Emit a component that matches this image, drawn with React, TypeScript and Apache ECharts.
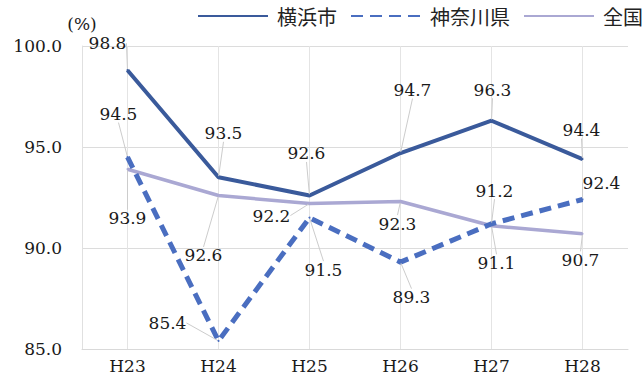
import React, { useEffect, useRef } from "react";
import * as echarts from "echarts";

const categories = ["H23", "H24", "H25", "H26", "H27", "H28"];
const yokohama = [98.8, 93.5, 92.6, 94.7, 96.3, 94.4];
const kanagawa = [94.5, 85.4, 91.5, 89.3, 91.2, 92.4];
const national = [93.9, 92.6, 92.2, 92.3, 91.1, 90.7];
const seriesNames = ["横浜市", "神奈川県", "全国"];
const yTicks = { min: 85, max: 100, interval: 5 };

// label offsets (style only): [dx, dy] relative to the point
const offYokohama = [[-20, -27], [5, -44], [-3, -42], [12, -63], [1, -31], [-1, -29]];
const offKanagawa = [[-9, -43], [-51, -18], [14, 52], [11, 35], [3, -33], [19, -17]];
const offNational = [[0, 49], [-15, 60], [-38, 12], [-3, 22], [5, 37], [-2, 26]];

const labelFont = "DejaVu Serif";
const labelSize = 17;

export default function App() {
  const ref = useRef<HTMLDivElement>(null);
  useEffect(() => {
    const chart = echarts.init(ref.current!, undefined, { renderer: "svg" });
    const offs = [offYokohama, offKanagawa, offNational];
    const mk = (name: string, data: number[], color: string, width: number, type: any, idx: number) => ({
      name,
      type: "line",
      data,
      symbol: "circle",
      symbolSize: 2,
      showSymbol: true,
      itemStyle: { color },
      lineStyle: { color, width, type, cap: "butt" },
      z: 3 - idx,
      label: {
        show: true,
        position: "inside",
        color: "#1a1a1a",
        fontFamily: labelFont,
        fontSize: labelSize,
        formatter: (p: any) => Number(p.value).toFixed(1),
      },
      labelLine: { show: true, lineStyle: { color: "#cccccc", width: 1 } },
      labelLayout: (p: any) => {
        const o = offs[idx][p.dataIndex];
        return { dx: o[0], dy: o[1], hideOverlap: false };
      },
      emphasis: { disabled: true },
    });
    const s0: any = mk(seriesNames[0], yokohama, "#3a5a9b", 4, "solid", 0);
    const s1: any = mk(seriesNames[1], kanagawa, "#4a6ec0", 5, [12, 7], 1);
    const s2: any = mk(seriesNames[2], national, "#aaa8d3", 3.5, "solid", 2);
    s2.markLine = {
      silent: true,
      symbol: "none",
      label: { show: false },
      lineStyle: { color: "#e4e4e4", width: 1, type: "solid" },
      data: categories.map((c) => ({ xAxis: c })),
      z: 0,
    };
    chart.setOption({
      animation: false,
      backgroundColor: "#fff",
      grid: { left: 82, right: 15, top: 46, bottom: 36 },
      legend: {
        top: 6,
        left: 197,
        padding: 0,
        itemWidth: 70,
        itemHeight: 10,
        itemGap: 13,
        itemStyle: { opacity: 0 },
        textStyle: {
          fontFamily: "Noto Sans CJK JP",
          fontSize: 20,
          color: "#222",
          padding: [0, 0, 0, 4],
        },
        data: seriesNames,
      },
      xAxis: {
        type: "category",
        data: categories,
        boundaryGap: true,
        axisLine: { show: true, lineStyle: { color: "#d9d9d9" } },
        axisTick: { show: false },
        axisLabel: { fontFamily: labelFont, fontSize: labelSize, color: "#1a1a1a", margin: 8 },
        splitLine: { show: false },
      },
      yAxis: {
        type: "value",
        min: yTicks.min,
        max: yTicks.max,
        interval: yTicks.interval,
        name: "(%)",
        nameLocation: "end",
        nameGap: 14,
        nameTextStyle: { fontFamily: labelFont, fontSize: labelSize, color: "#1a1a1a", align: "center" },
        axisLine: { show: true, lineStyle: { color: "#e0e0e0" } },
        axisTick: { show: false },
        axisLabel: {
          fontFamily: labelFont,
          fontSize: labelSize,
          color: "#1a1a1a",
          margin: 20,
          formatter: (v: number) => v.toFixed(1),
        },
        splitLine: { show: true, lineStyle: { color: "#dcdcdc" } },
      },
      series: [s0, s1, s2],
    });
    return () => chart.dispose();
  }, []);
  return <div ref={ref} style={{ width: 643, height: 385, position: "absolute", left: 0, top: 0 }} />;
}
